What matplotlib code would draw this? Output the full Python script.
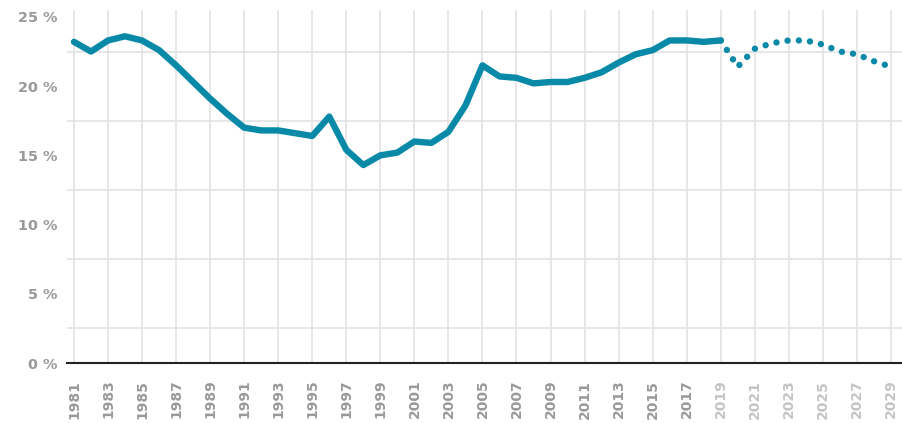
import matplotlib
matplotlib.use("Agg")
import matplotlib.pyplot as plt
from matplotlib.ticker import FixedLocator

# Observed share (%) 1981-2019
years_hist = list(range(1981, 2020))
share_hist = [
    23.2, 22.5, 23.3, 23.6, 23.3, 22.6, 21.5, 20.3, 19.1, 18.0,
    17.0, 16.8, 16.8, 16.6, 16.4, 17.8, 15.4, 14.3, 15.0, 15.2,
    16.0, 15.9, 16.7, 18.6, 21.5, 20.7, 20.6, 20.2, 20.3, 20.3,
    20.6, 21.0, 21.7, 22.3, 22.6, 23.3, 23.3, 23.2, 23.3,
]

# Projection 2019-2029
years_proj = list(range(2019, 2030))
share_proj = [23.3, 21.4, 22.7, 23.1, 23.3, 23.3, 23.0, 22.5, 22.3, 21.8, 21.4]

tick_years = list(range(1981, 2030, 2))
y_ticks = [0, 5, 10, 15, 20, 25]

line_color = "#0889a8"
label_grey = "#999999"
future_grey = "#c4c4c4"
grid_color = "#e3e3e3"

plt.rcParams["font.family"] = ["DejaVu Sans"]

fig = plt.figure(figsize=(9.02, 4.23), dpi=100)
ax = fig.add_axes([67 / 902, 60 / 423, 835 / 902, 353 / 423])

ax.plot(years_hist, share_hist, color=line_color, lw=4.6,
        solid_capstyle="round", solid_joinstyle="round", clip_on=False, zorder=3)
ax.plot(years_proj, share_proj, color=line_color, lw=4.6,
        linestyle=(0, (0.01, 1.75)), dash_capstyle="round", clip_on=False, zorder=3)

ax.set_xlim(1980.59, 2029.65)
ax.set_ylim(0, 25.5)

# grid
ax.yaxis.set_major_locator(FixedLocator(y_ticks))
ax.yaxis.set_minor_locator(FixedLocator([v * 2.5 for v in range(11)]))
ax.xaxis.set_major_locator(FixedLocator(tick_years))
ax.grid(True, which="minor", axis="y", color=grid_color, lw=1.2)
ax.grid(True, which="major", axis="x", color=grid_color, lw=1.2)
ax.set_axisbelow(True)

for side in ["top", "right", "left"]:
    ax.spines[side].set_visible(False)
ax.spines["bottom"].set_color("#222222")
ax.spines["bottom"].set_linewidth(1.5)

ax.tick_params(axis="both", which="both", length=0)
ax.tick_params(axis="y", pad=7)
ax.tick_params(axis="x", pad=12)

ax.set_yticklabels([f"{v} %" for v in y_ticks], fontsize=10.4,
                   fontweight="bold", color=label_grey)
ax.set_xticklabels([str(y) for y in tick_years], rotation=90, fontsize=10,
                   fontweight="bold", va="top", ha="center")
for lbl, yr in zip(ax.get_xticklabels(), tick_years):
    lbl.set_color(label_grey if yr < 2019 else future_grey)

fig.savefig("out.png", dpi=100)
